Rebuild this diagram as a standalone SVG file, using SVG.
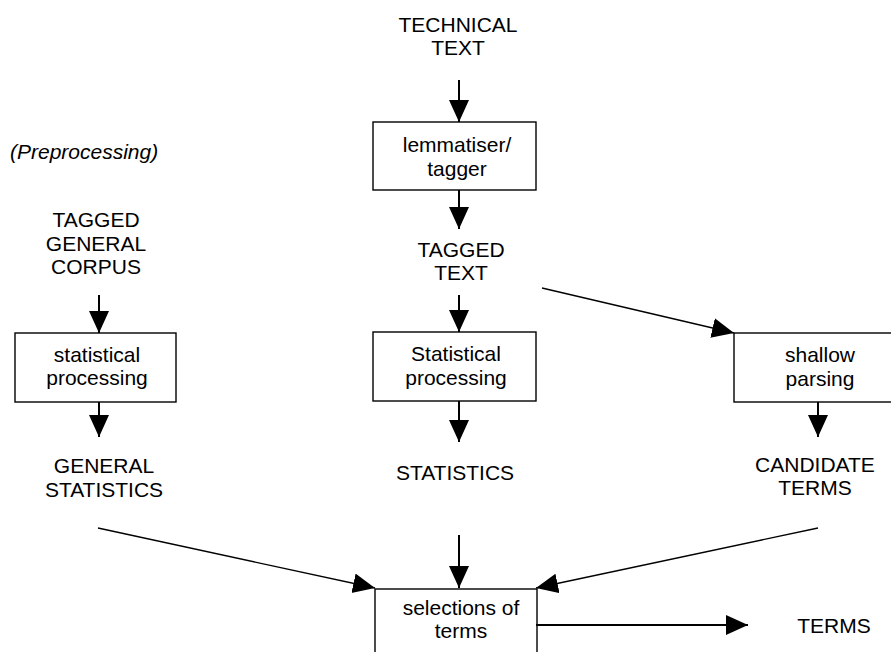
<svg xmlns="http://www.w3.org/2000/svg" width="891" height="652" viewBox="0 0 891 652">
<style>
  text { font-family: "Liberation Sans", Arial, sans-serif; font-size: 21px; fill: #000; }
  .c { text-anchor: middle; }
  .box { fill: #fff; stroke: #000; stroke-width: 1.4; }
  .arr { stroke: #000; stroke-width: 2; fill: none; marker-end: url(#head); }
  .diag { stroke: #000; stroke-width: 1.3; fill: none; marker-end: url(#head); }
</style>
<defs>
  <marker id="head" markerUnits="userSpaceOnUse" markerWidth="24" markerHeight="22" refX="22" refY="10" orient="auto" viewBox="0 0 24 22">
    <path d="M0,0 L22,10 L0,20 z" fill="#000"/>
  </marker>
</defs>
<rect width="891" height="652" fill="#fff"/>

<g id="technical-text">
  <text class="c" x="458" y="32">TECHNICAL</text>
  <text class="c" x="458" y="55">TEXT</text>
</g>
<g id="preprocessing-label">
  <text x="10" y="159" font-style="italic">(Preprocessing)</text>
</g>
<g id="lemmatiser">
  <rect class="box" x="373" y="122" width="163" height="68"/>
  <text class="c" x="457" y="152">lemmatiser/</text>
  <text class="c" x="457" y="176">tagger</text>
</g>
<g id="tagged-text">
  <text class="c" x="461" y="257">TAGGED</text>
  <text class="c" x="461" y="280">TEXT</text>
</g>
<g id="tagged-general-corpus">
  <text class="c" x="96" y="227">TAGGED</text>
  <text class="c" x="96" y="251">GENERAL</text>
  <text class="c" x="96" y="274">CORPUS</text>
</g>
<g id="statistical-processing-general">
  <rect class="box" x="15" y="333" width="161" height="69"/>
  <text class="c" x="97" y="362">statistical</text>
  <text class="c" x="97" y="385">processing</text>
</g>
<g id="statistical-processing">
  <rect class="box" x="373" y="332" width="163" height="69"/>
  <text class="c" x="456" y="361">Statistical</text>
  <text class="c" x="456" y="385">processing</text>
</g>
<g id="shallow-parsing">
  <rect class="box" x="734" y="333" width="180" height="69"/>
  <text class="c" x="820" y="362">shallow</text>
  <text class="c" x="820" y="386">parsing</text>
</g>
<g id="general-statistics">
  <text class="c" x="104" y="473">GENERAL</text>
  <text class="c" x="104" y="497">STATISTICS</text>
</g>
<g id="statistics">
  <text class="c" x="455" y="480">STATISTICS</text>
</g>
<g id="candidate-terms">
  <text class="c" x="815" y="472">CANDIDATE</text>
  <text class="c" x="815" y="495">TERMS</text>
</g>
<g id="selection-of-terms">
  <rect class="box" x="375" y="589" width="162" height="80"/>
  <text class="c" x="461" y="615">selections of</text>
  <text class="c" x="461" y="638">terms</text>
</g>
<g id="terms">
  <text class="c" x="834" y="633">TERMS</text>
</g>

<g id="connectors">
  <line class="arr" x1="459" y1="80" x2="459" y2="122"/>
  <line class="arr" x1="459" y1="190" x2="459" y2="229"/>
  <line class="arr" x1="459" y1="295" x2="459" y2="332"/>
  <line class="arr" x1="459" y1="401" x2="459" y2="442"/>
  <line class="arr" x1="459" y1="535" x2="459" y2="588"/>
  <line class="arr" x1="99" y1="295" x2="99" y2="333"/>
  <line class="arr" x1="99" y1="402" x2="99" y2="437"/>
  <line class="arr" x1="818" y1="402" x2="818" y2="437"/>
  <line class="arr" x1="536" y1="625" x2="748" y2="625"/>
  <line class="diag" x1="542" y1="288" x2="734" y2="333"/>
  <line class="diag" x1="98" y1="528" x2="375" y2="588"/>
  <line class="diag" x1="818" y1="528" x2="536" y2="588"/>
</g>
</svg>
